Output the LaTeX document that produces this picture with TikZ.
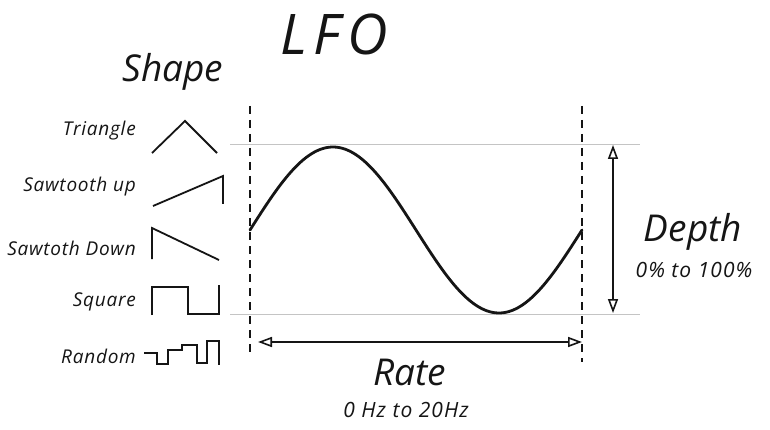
\documentclass[tikz,border=0pt]{standalone}
\usepackage{fontspec}
\setmainfont{Open Sans}
\usetikzlibrary{arrows.meta}
\definecolor{ink}{HTML}{151515}
\definecolor{guide}{HTML}{C4C4C4}
\tikzset{
  hand/.style={text=ink, font=\itshape, inner sep=0pt},
  lbl/.style={hand, font=\itshape\fontsize{19}{22}\selectfont\addfontfeatures{LetterSpace=4}, anchor=east},
  icon/.style={draw=ink, line width=1.8pt, line join=miter},
  guideline/.style={draw=guide, line width=1pt},
  dashline/.style={draw=ink, line width=1.5pt, dash pattern=on 8pt off 6pt},
  dimarrow/.style={draw=ink, line width=1.6pt, {Triangle[open,length=14pt,width=10pt]}-{Triangle[open,length=14pt,width=10pt]}},
}
\begin{document}
\begin{tikzpicture}[x=1pt,y=-1pt]
\useasboundingbox[fill=white] (0,0) rectangle (770,430);
% titles
\node[hand, font=\itshape\fontsize{56}{60}\selectfont\addfontfeatures{LetterSpace=12}] (title) at (334,34) {LFO};
\node[hand, font=\itshape\fontsize{37}{40}\selectfont] (shape) at (173,72) {Shape};
% guides
\coordinate (gtl) at (230,145); \coordinate (gtr) at (640,145);
\coordinate (gbl) at (230,314); \coordinate (gbr) at (640,314);
\draw[guideline] (gtl) -- (gtr);
\draw[guideline] (gbl) -- (gbr);
\coordinate (dlt) at (250,106); \coordinate (dlb) at (250,356);
\coordinate (drt) at (582,106); \coordinate (drb) at (582,362);
\draw[dashline] (dlt) -- (dlb);
\draw[dashline] (drt) -- (drb);
% sine
\draw[draw=ink, line width=2.8pt, line cap=round, domain=0:360, samples=120, variable=\t]
  plot ({250+0.92222*\t}, {230-83*sin(\t)});
% depth arrow
\coordinate (dtop) at (613,145); \coordinate (dbot) at (613,313);
\draw[dimarrow] (dtop) -- (dbot);
\node[hand, font=\itshape\fontsize{37}{40}\selectfont] (depth) at (693,232) {Depth};
\node[hand, font=\itshape\fontsize{21}{24}\selectfont\addfontfeatures{LetterSpace=5}] (depthr) at (694,270) {0\% to 100\%};
% rate arrow
\coordinate (rl) at (258,342); \coordinate (rr) at (582,342);
\draw[dimarrow] (rl) -- (rr);
\node[hand, font=\itshape\fontsize{37}{40}\selectfont] (rate) at (410,372) {Rate};
\node[hand, font=\itshape\fontsize{21}{24}\selectfont\addfontfeatures{LetterSpace=5}] (rater) at (406,410) {0 Hz to 20Hz};
% shape labels
\node[lbl] (ltri) at (136,131) {Triangle};
\node[lbl] (lsup) at (136,187) {Sawtooth up};
\node[lbl] (lsdn) at (136,248) {Sawtoth Down};
\node[lbl] (lsq) at (136,302) {Square};
\node[lbl] (lrnd) at (136,356) {Random};
% icons
\draw[icon] (152,153) -- (185,121) -- (217,153);
\draw[icon] (153,206) -- (223,176) -- (223,204);
\draw[icon] (152,259) -- (152,228) -- (219,260);
\draw[icon] (152,315) -- (152,287) -- (188,287) -- (188,314) -- (219,314) -- (219,285);
\draw[icon] (144,353) -- (157,353) -- (157,364) -- (168,364) -- (168,350) -- (182,350) -- (182,345) -- (197,345) -- (197,363) -- (207,363) -- (207,341) -- (219,341) -- (219,365);
\end{tikzpicture}
\end{document}
